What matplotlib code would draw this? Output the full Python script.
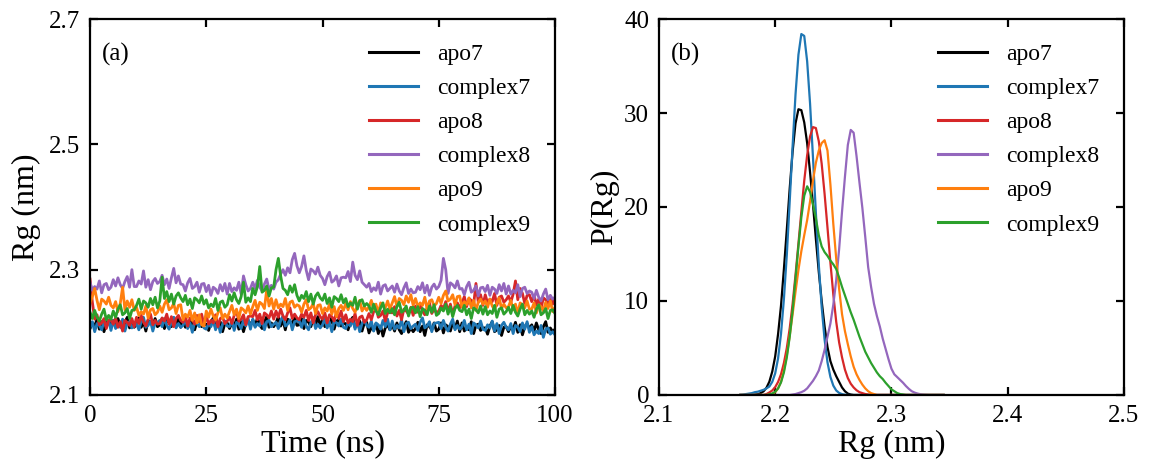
import numpy as np
import matplotlib
matplotlib.use("Agg")
import matplotlib.pyplot as plt

plt.rcParams["font.family"] = ["Liberation Serif", "DejaVu Serif"]

labels = ["apo7", "complex7", "apo8", "complex8", "apo9", "complex9"]
colors = ["black", "#1f77b4", "#d62728", "#9467bd", "#ff7f0e", "#2ca02c"]

# ---- panel (a): Rg vs time, one value every 0.5 ns ----
time_ns = np.linspace(0, 100, 201)

rg_apo7 = [
    2.206, 2.215, 2.210, 2.221, 2.205, 2.217, 2.201, 2.214, 2.219, 2.211,
    2.219, 2.209, 2.222, 2.211, 2.205, 2.216, 2.224, 2.207, 2.214, 2.208,
    2.213, 2.223, 2.208, 2.217, 2.202, 2.219, 2.216, 2.211, 2.222, 2.209,
    2.212, 2.222, 2.206, 2.219, 2.216, 2.209, 2.223, 2.213, 2.225, 2.208,
    2.221, 2.208, 2.214, 2.210, 2.223, 2.204, 2.217, 2.219, 2.209, 2.213,
    2.213, 2.203, 2.216, 2.223, 2.207, 2.210, 2.217, 2.201, 2.214, 2.215,
    2.206, 2.215, 2.210, 2.221, 2.205, 2.217, 2.201, 2.214, 2.219, 2.211,
    2.220, 2.210, 2.223, 2.212, 2.206, 2.217, 2.225, 2.208, 2.215, 2.209,
    2.215, 2.225, 2.210, 2.219, 2.204, 2.221, 2.218, 2.213, 2.224, 2.211,
    2.212, 2.222, 2.206, 2.219, 2.216, 2.209, 2.223, 2.213, 2.225, 2.208,
    2.222, 2.209, 2.215, 2.211, 2.224, 2.205, 2.218, 2.220, 2.210, 2.214,
    2.214, 2.204, 2.217, 2.224, 2.208, 2.211, 2.218, 2.202, 2.215, 2.216,
    2.199, 2.208, 2.203, 2.214, 2.198, 2.210, 2.194, 2.207, 2.212, 2.204,
    2.212, 2.202, 2.215, 2.204, 2.198, 2.209, 2.217, 2.200, 2.207, 2.201,
    2.206, 2.216, 2.201, 2.210, 2.195, 2.212, 2.209, 2.204, 2.215, 2.202,
    2.205, 2.215, 2.199, 2.212, 2.209, 2.202, 2.216, 2.206, 2.218, 2.201,
    2.215, 2.202, 2.208, 2.204, 2.217, 2.198, 2.211, 2.213, 2.203, 2.207,
    2.207, 2.197, 2.210, 2.217, 2.201, 2.204, 2.211, 2.195, 2.208, 2.209,
    2.201, 2.210, 2.205, 2.216, 2.200, 2.212, 2.196, 2.209, 2.214, 2.206,
    2.212, 2.202, 2.215, 2.204, 2.198, 2.209, 2.217, 2.200, 2.207, 2.201,
    2.205,
]

rg_complex7 = [
    2.207, 2.217, 2.201, 2.214, 2.211, 2.204, 2.218, 2.208, 2.220, 2.203,
    2.219, 2.206, 2.212, 2.208, 2.221, 2.202, 2.215, 2.217, 2.207, 2.211,
    2.214, 2.204, 2.217, 2.224, 2.208, 2.211, 2.218, 2.202, 2.215, 2.216,
    2.219, 2.209, 2.222, 2.211, 2.205, 2.216, 2.224, 2.207, 2.214, 2.208,
    2.211, 2.221, 2.206, 2.215, 2.200, 2.217, 2.214, 2.209, 2.220, 2.207,
    2.205, 2.214, 2.209, 2.220, 2.204, 2.216, 2.200, 2.213, 2.218, 2.210,
    2.209, 2.219, 2.203, 2.216, 2.213, 2.206, 2.220, 2.210, 2.222, 2.205,
    2.221, 2.208, 2.214, 2.210, 2.223, 2.204, 2.217, 2.219, 2.209, 2.213,
    2.216, 2.206, 2.219, 2.226, 2.210, 2.213, 2.220, 2.204, 2.217, 2.218,
    2.218, 2.208, 2.221, 2.210, 2.204, 2.215, 2.223, 2.206, 2.213, 2.207,
    2.212, 2.222, 2.207, 2.216, 2.201, 2.218, 2.215, 2.210, 2.221, 2.208,
    2.206, 2.215, 2.210, 2.221, 2.205, 2.217, 2.201, 2.214, 2.219, 2.211,
    2.208, 2.218, 2.202, 2.215, 2.212, 2.205, 2.219, 2.209, 2.221, 2.204,
    2.218, 2.205, 2.211, 2.207, 2.220, 2.201, 2.214, 2.216, 2.206, 2.210,
    2.213, 2.203, 2.216, 2.223, 2.207, 2.210, 2.217, 2.201, 2.214, 2.215,
    2.216, 2.206, 2.219, 2.208, 2.202, 2.213, 2.221, 2.204, 2.211, 2.205,
    2.209, 2.219, 2.204, 2.213, 2.198, 2.215, 2.212, 2.207, 2.218, 2.205,
    2.203, 2.212, 2.207, 2.218, 2.202, 2.214, 2.198, 2.211, 2.216, 2.208,
    2.204, 2.214, 2.198, 2.211, 2.208, 2.201, 2.215, 2.205, 2.217, 2.200,
    2.209, 2.196, 2.202, 2.198, 2.211, 2.192, 2.205, 2.207, 2.197, 2.201,
    2.196,
]

rg_apo8 = [
    2.285, 2.248, 2.221, 2.228, 2.212, 2.215, 2.222, 2.206, 2.219, 2.220,
    2.213, 2.223, 2.208, 2.217, 2.202, 2.219, 2.216, 2.211, 2.222, 2.209,
    2.224, 2.214, 2.227, 2.216, 2.210, 2.221, 2.229, 2.212, 2.219, 2.213,
    2.214, 2.223, 2.218, 2.229, 2.213, 2.225, 2.209, 2.222, 2.227, 2.219,
    2.216, 2.226, 2.210, 2.223, 2.220, 2.213, 2.227, 2.217, 2.229, 2.212,
    2.226, 2.213, 2.219, 2.215, 2.228, 2.209, 2.222, 2.224, 2.214, 2.218,
    2.224, 2.214, 2.227, 2.234, 2.218, 2.221, 2.228, 2.212, 2.225, 2.226,
    2.225, 2.235, 2.220, 2.229, 2.214, 2.231, 2.228, 2.223, 2.234, 2.221,
    2.234, 2.224, 2.237, 2.226, 2.220, 2.231, 2.239, 2.222, 2.229, 2.223,
    2.220, 2.229, 2.224, 2.235, 2.219, 2.231, 2.215, 2.228, 2.233, 2.225,
    2.221, 2.231, 2.215, 2.228, 2.225, 2.218, 2.232, 2.222, 2.234, 2.217,
    2.228, 2.215, 2.221, 2.217, 2.230, 2.211, 2.224, 2.226, 2.216, 2.220,
    2.230, 2.220, 2.233, 2.240, 2.224, 2.227, 2.234, 2.218, 2.231, 2.232,
    2.231, 2.241, 2.226, 2.235, 2.220, 2.237, 2.234, 2.229, 2.240, 2.227,
    2.242, 2.232, 2.245, 2.234, 2.228, 2.239, 2.247, 2.230, 2.237, 2.231,
    2.234, 2.243, 2.238, 2.249, 2.233, 2.245, 2.229, 2.242, 2.247, 2.239,
    2.247, 2.257, 2.241, 2.254, 2.251, 2.244, 2.278, 2.248, 2.260, 2.243,
    2.260, 2.247, 2.253, 2.249, 2.262, 2.243, 2.256, 2.258, 2.248, 2.252,
    2.258, 2.248, 2.261, 2.282, 2.252, 2.270, 2.262, 2.246, 2.259, 2.260,
    2.249, 2.259, 2.244, 2.253, 2.238, 2.255, 2.252, 2.247, 2.258, 2.245,
    2.255,
]

rg_complex8 = [
    2.280, 2.267, 2.273, 2.269, 2.282, 2.263, 2.276, 2.278, 2.268, 2.272,
    2.284, 2.274, 2.287, 2.276, 2.270, 2.281, 2.289, 2.272, 2.300, 2.273,
    2.273, 2.282, 2.277, 2.298, 2.272, 2.284, 2.268, 2.281, 2.286, 2.278,
    2.281, 2.291, 2.276, 2.285, 2.270, 2.287, 2.302, 2.279, 2.290, 2.277,
    2.276, 2.266, 2.279, 2.286, 2.270, 2.273, 2.280, 2.264, 2.277, 2.278,
    2.265, 2.275, 2.259, 2.272, 2.269, 2.262, 2.276, 2.266, 2.278, 2.261,
    2.278, 2.265, 2.271, 2.267, 2.280, 2.261, 2.290, 2.276, 2.266, 2.270,
    2.280, 2.270, 2.283, 2.272, 2.266, 2.277, 2.285, 2.268, 2.275, 2.269,
    2.280, 2.284, 2.293, 2.300, 2.291, 2.303, 2.295, 2.316, 2.326, 2.306,
    2.295, 2.305, 2.322, 2.299, 2.284, 2.301, 2.298, 2.293, 2.304, 2.291,
    2.286, 2.276, 2.289, 2.296, 2.280, 2.283, 2.290, 2.274, 2.287, 2.288,
    2.287, 2.297, 2.281, 2.312, 2.291, 2.284, 2.298, 2.280, 2.276, 2.272,
    2.278, 2.265, 2.271, 2.267, 2.280, 2.261, 2.274, 2.276, 2.266, 2.270,
    2.274, 2.264, 2.277, 2.266, 2.260, 2.271, 2.279, 2.262, 2.269, 2.263,
    2.264, 2.273, 2.268, 2.279, 2.263, 2.275, 2.259, 2.272, 2.277, 2.269,
    2.273, 2.283, 2.318, 2.300, 2.262, 2.279, 2.276, 2.271, 2.282, 2.269,
    2.270, 2.260, 2.273, 2.280, 2.264, 2.267, 2.274, 2.258, 2.271, 2.272,
    2.265, 2.275, 2.259, 2.272, 2.269, 2.262, 2.276, 2.266, 2.278, 2.261,
    2.274, 2.261, 2.267, 2.263, 2.276, 2.257, 2.270, 2.272, 2.262, 2.266,
    2.264, 2.254, 2.267, 2.256, 2.250, 2.261, 2.269, 2.252, 2.259, 2.253,
    2.256,
]

rg_apo9 = [
    2.247, 2.257, 2.270, 2.251, 2.236, 2.253, 2.250, 2.245, 2.256, 2.243,
    2.239, 2.249, 2.233, 2.246, 2.272, 2.236, 2.250, 2.240, 2.252, 2.235,
    2.240, 2.227, 2.233, 2.229, 2.242, 2.223, 2.236, 2.238, 2.228, 2.232,
    2.242, 2.232, 2.245, 2.252, 2.236, 2.239, 2.246, 2.230, 2.243, 2.244,
    2.220, 2.229, 2.224, 2.235, 2.219, 2.231, 2.215, 2.228, 2.212, 2.210,
    2.234, 2.224, 2.237, 2.226, 2.220, 2.231, 2.239, 2.222, 2.229, 2.223,
    2.233, 2.243, 2.228, 2.237, 2.222, 2.239, 2.236, 2.231, 2.242, 2.229,
    2.241, 2.251, 2.235, 2.248, 2.245, 2.238, 2.268, 2.242, 2.254, 2.237,
    2.252, 2.239, 2.245, 2.241, 2.254, 2.235, 2.248, 2.250, 2.240, 2.244,
    2.242, 2.232, 2.245, 2.252, 2.236, 2.239, 2.246, 2.230, 2.243, 2.244,
    2.230, 2.239, 2.234, 2.245, 2.229, 2.241, 2.225, 2.238, 2.243, 2.235,
    2.246, 2.236, 2.249, 2.238, 2.232, 2.243, 2.251, 2.234, 2.241, 2.235,
    2.241, 2.251, 2.236, 2.245, 2.230, 2.247, 2.244, 2.239, 2.250, 2.237,
    2.247, 2.257, 2.241, 2.254, 2.251, 2.244, 2.258, 2.248, 2.260, 2.243,
    2.254, 2.241, 2.247, 2.243, 2.256, 2.237, 2.250, 2.252, 2.242, 2.246,
    2.256, 2.246, 2.259, 2.266, 2.250, 2.253, 2.260, 2.244, 2.257, 2.258,
    2.240, 2.249, 2.244, 2.255, 2.239, 2.251, 2.235, 2.248, 2.253, 2.245,
    2.250, 2.240, 2.253, 2.242, 2.236, 2.247, 2.255, 2.238, 2.245, 2.239,
    2.241, 2.251, 2.236, 2.245, 2.230, 2.247, 2.244, 2.239, 2.250, 2.237,
    2.237, 2.247, 2.231, 2.244, 2.241, 2.234, 2.248, 2.238, 2.250, 2.233,
    2.240,
]

rg_complex9 = [
    2.232, 2.222, 2.235, 2.224, 2.218, 2.229, 2.237, 2.220, 2.227, 2.221,
    2.234, 2.224, 2.237, 2.244, 2.228, 2.231, 2.238, 2.222, 2.235, 2.236,
    2.243, 2.253, 2.237, 2.250, 2.247, 2.240, 2.254, 2.244, 2.256, 2.239,
    2.250, 2.288, 2.254, 2.265, 2.249, 2.261, 2.245, 2.258, 2.263, 2.255,
    2.249, 2.259, 2.244, 2.253, 2.238, 2.255, 2.252, 2.247, 2.258, 2.245,
    2.252, 2.239, 2.245, 2.241, 2.254, 2.235, 2.248, 2.250, 2.240, 2.244,
    2.260, 2.250, 2.263, 2.252, 2.246, 2.257, 2.280, 2.248, 2.255, 2.249,
    2.270, 2.260, 2.273, 2.305, 2.264, 2.267, 2.274, 2.258, 2.271, 2.272,
    2.300, 2.318, 2.290, 2.270, 2.267, 2.260, 2.274, 2.264, 2.276, 2.259,
    2.250, 2.259, 2.254, 2.265, 2.249, 2.261, 2.245, 2.258, 2.263, 2.255,
    2.251, 2.261, 2.246, 2.255, 2.240, 2.257, 2.254, 2.249, 2.260, 2.247,
    2.254, 2.241, 2.247, 2.243, 2.256, 2.237, 2.250, 2.252, 2.242, 2.246,
    2.242, 2.232, 2.245, 2.234, 2.228, 2.239, 2.247, 2.230, 2.237, 2.231,
    2.238, 2.228, 2.241, 2.248, 2.232, 2.235, 2.242, 2.226, 2.239, 2.240,
    2.231, 2.241, 2.225, 2.238, 2.235, 2.228, 2.242, 2.232, 2.244, 2.227,
    2.230, 2.239, 2.234, 2.245, 2.229, 2.241, 2.225, 2.238, 2.243, 2.235,
    2.233, 2.243, 2.228, 2.237, 2.222, 2.239, 2.236, 2.231, 2.242, 2.229,
    2.241, 2.228, 2.234, 2.230, 2.243, 2.224, 2.237, 2.239, 2.229, 2.233,
    2.240, 2.230, 2.243, 2.232, 2.226, 2.237, 2.245, 2.228, 2.235, 2.229,
    2.234, 2.224, 2.237, 2.244, 2.228, 2.231, 2.238, 2.222, 2.235, 2.236,
    2.230,
]

# ---- panel (b): P(Rg) sampled every 0.0025 nm from 2.170 to 2.345 ----
rg_grid = np.linspace(2.170, 2.345, 71)

p_apo7 = [
    0, 0, 0.01, 0.02, 0.03, 0.05, 0.08, 0.2, 0.39, 0.77,
    1.42, 2.5, 4.1, 6.5, 9.5, 13.4, 17.6, 22.0, 25.9, 28.9,
    30.4, 30.3, 29.0, 26.8, 23.7, 20.3, 16.6, 13.1, 10.0, 7.3,
    5.1, 3.6, 2.7, 2.0, 1.4, 0.8, 0.4, 0.15, 0.05, 0,
    0, 0, 0, 0, 0, 0, 0, 0, 0, 0,
    0, 0, 0, 0, 0, 0, 0, 0, 0, 0,
    0, 0, 0, 0, 0, 0, 0, 0, 0, 0,
    0,
]
p_complex7 = [
    0.02, 0.05, 0.1, 0.15, 0.2, 0.3, 0.35, 0.45, 0.55, 0.7,
    0.9, 1.4, 2.3, 3.9, 6.5, 10.2, 14.9, 20.6, 26.5, 32.0,
    36.2, 38.4, 38.2, 35.5, 31.0, 25.3, 19.4, 13.9, 9.35, 5.9,
    3.47, 1.92, 1.0, 0.48, 0.22, 0.09, 0.03, 0, 0, 0,
    0, 0, 0, 0, 0, 0, 0, 0, 0, 0,
    0, 0, 0, 0, 0, 0, 0, 0, 0, 0,
    0, 0, 0, 0, 0, 0, 0, 0, 0, 0,
    0,
]
p_apo8 = [
    0, 0, 0, 0, 0, 0, 0, 0, 0, 0.1,
    0.27, 0.48, 0.84, 1.39, 2.2, 3.4, 5.0, 7.1, 9.7, 12.8,
    16.1, 19.5, 22.8, 25.5, 27.5, 28.5, 28.4, 27.0, 24.6, 21.4,
    17.8, 14.1, 10.7, 7.8, 5.6, 4.0, 2.7, 1.8, 1.2, 0.8,
    0.5, 0.3, 0.2, 0.1, 0.05, 0, 0, 0, 0, 0,
    0, 0, 0, 0, 0, 0, 0, 0, 0, 0,
    0, 0, 0, 0, 0, 0, 0, 0, 0, 0,
    0,
]
p_complex8 = [
    0, 0, 0, 0, 0, 0, 0, 0, 0, 0,
    0, 0, 0, 0, 0, 0, 0, 0, 0.05, 0.1,
    0.2, 0.3, 0.45, 0.7, 1.1, 1.5, 2.0, 2.6, 3.6, 4.8,
    6.2, 7.6, 9.6, 12.2, 15.5, 19.5, 23.2, 26.6, 28.2, 27.9,
    25.4, 22.6, 19.9, 16.8, 13.6, 11.5, 9.7, 8.4, 7.3, 6.0,
    4.9, 3.8, 2.8, 2.2, 1.9, 1.6, 1.3, 0.95, 0.65, 0.4,
    0.25, 0.15, 0.08, 0.04, 0.02, 0, 0, 0, 0, 0,
    0,
]
p_apo9 = [
    0, 0, 0, 0, 0, 0, 0, 0, 0, 0,
    0.05, 0.1, 0.3, 0.7, 1.4, 2.6, 4.2, 6.3, 8.6, 11.0,
    13.3, 15.3, 17.0, 18.6, 20.6, 22.8, 24.7, 26.0, 26.8, 27.1,
    26.0, 22.4, 18.2, 14.5, 11.3, 8.6, 6.8, 5.4, 4.1, 3.0,
    2.2, 1.6, 1.1, 0.7, 0.4, 0.2, 0.1, 0, 0, 0,
    0, 0, 0, 0, 0, 0, 0, 0, 0, 0,
    0, 0, 0, 0, 0, 0, 0, 0, 0, 0,
    0,
]
p_complex9 = [
    0, 0, 0, 0, 0, 0, 0, 0, 0, 0,
    0.07, 0.16, 0.34, 0.7, 1.34, 2.4, 4.0, 6.2, 9.0, 12.4,
    15.8, 18.9, 21.2, 22.2, 21.6, 20.3, 18.8, 17.0, 15.8, 15.2,
    14.8, 14.3, 13.9, 13.4, 12.5, 11.5, 10.6, 9.7, 8.8, 8.0,
    7.1, 6.2, 5.4, 4.6, 4.0, 3.4, 2.9, 2.4, 2.0, 1.7,
    1.3, 0.95, 0.6, 0.4, 0.2, 0.1, 0.05, 0, 0, 0,
    0, 0, 0, 0, 0, 0, 0, 0, 0, 0,
    0,
]

rg_series = [rg_apo7, rg_complex7, rg_apo8, rg_complex8, rg_apo9, rg_complex9]
p_series = [p_apo7, p_complex7, p_apo8, p_complex8, p_apo9, p_complex9]

fig = plt.figure(figsize=(11.5, 4.74), dpi=100)
ax1 = fig.add_axes([0.0783, 0.1667, 0.4043, 0.7932])
ax2 = fig.add_axes([0.5730, 0.1667, 0.4043, 0.7932])

for rg, lab, col in zip(rg_series, labels, colors):
    ax1.plot(time_ns, rg, color=col, lw=2.0, label=lab)

for p, lab, col in zip(p_series, labels, colors):
    ax2.plot(rg_grid, p, color=col, lw=1.6, label=lab)

ax1.set_xlim(0, 100)
ax1.set_ylim(2.1, 2.7)
ax1.set_xticks([0, 25, 50, 75, 100])
ax1.set_yticks([2.1, 2.3, 2.5, 2.7])
ax1.set_xlabel("Time (ns)", fontsize=23, labelpad=2)
ax1.set_ylabel("Rg (nm)", fontsize=23, labelpad=6)
ax1.text(0.025, 0.905, "(a)", transform=ax1.transAxes, fontsize=18, va="center")

ax2.set_xlim(2.1, 2.5)
ax2.set_ylim(0, 40)
ax2.set_xticks([2.1, 2.2, 2.3, 2.4, 2.5])
ax2.set_yticks([0, 10, 20, 30, 40])
ax2.set_xlabel("Rg (nm)", fontsize=23, labelpad=2)
ax2.set_ylabel("P(Rg)", fontsize=23, labelpad=4)
ax2.text(0.025, 0.905, "(b)", transform=ax2.transAxes, fontsize=18, va="center")

for ax in (ax1, ax2):
    ax.tick_params(direction="in", length=6, width=1.6, labelsize=18,
                   top=True, right=True, pad=7)
    for sp in ax.spines.values():
        sp.set_linewidth(1.6)
    leg = ax.legend(loc="upper right", frameon=False, fontsize=17,
                    handlelength=2.1, handletextpad=0.8, labelspacing=0.53,
                    borderaxespad=0.65)
    for h in leg.get_lines():
        h.set_linewidth(2.2)

fig.savefig("out.png", dpi=100)
